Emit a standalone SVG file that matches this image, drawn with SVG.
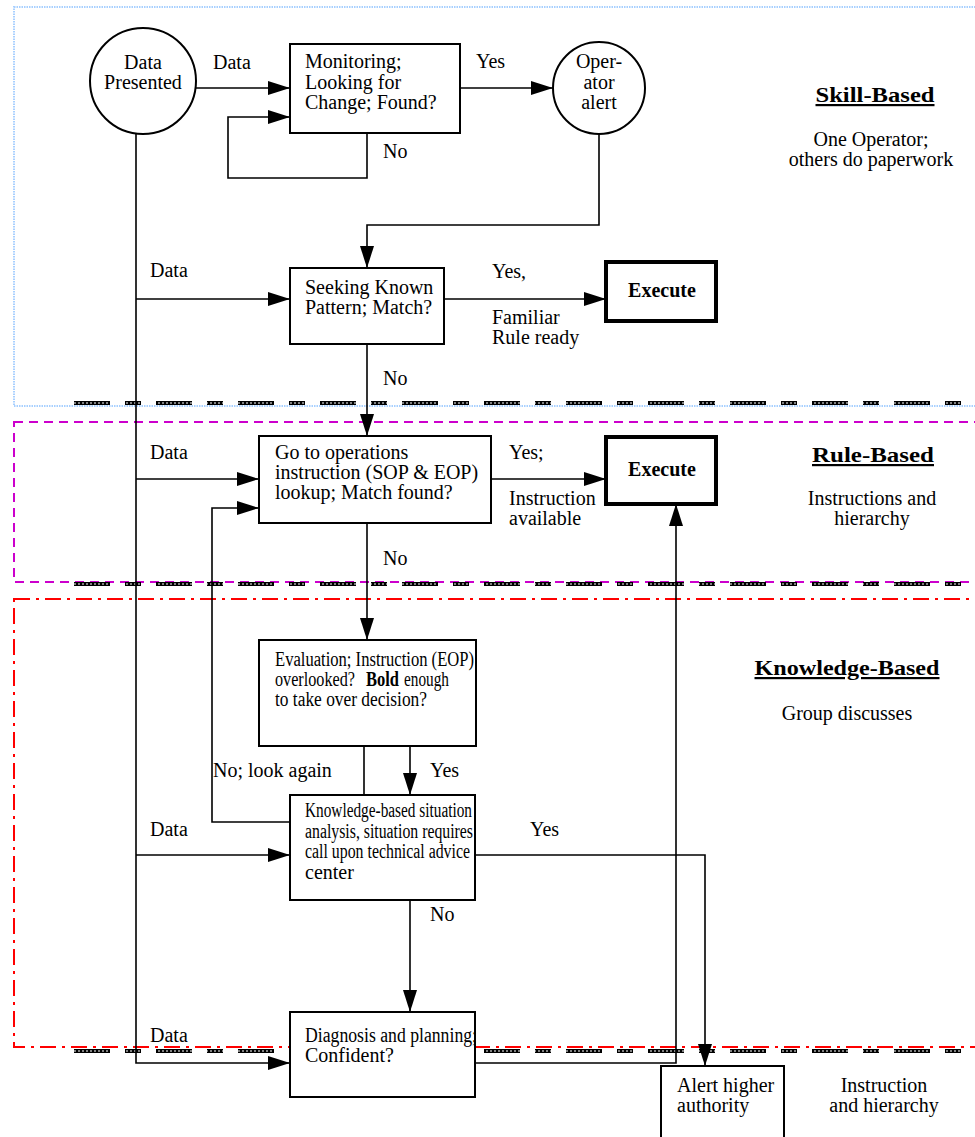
<svg xmlns="http://www.w3.org/2000/svg" width="975" height="1137" viewBox="0 0 975 1137">
<style>
text{font-family:"Liberation Serif","Times New Roman",serif;font-size:20px;fill:#000}
.b{font-weight:bold}
.t{font-weight:bold;font-size:22px;text-decoration:underline;text-anchor:middle}
.m{text-anchor:middle}
.box{fill:#fff;stroke:#000;stroke-width:2}
.ex{fill:#fff;stroke:#000;stroke-width:4}
.ln{fill:none;stroke:#000;stroke-width:1.6}
.arr{marker-end:url(#ah)}
.chain{stroke:#000;stroke-width:4;stroke-dasharray:36 15 16 15}
.chainw{stroke:#fff;stroke-width:1.2;stroke-dasharray:2 2}
</style>
<defs>
<marker id="ah" viewBox="0 0 22 14" refX="22" refY="7" markerWidth="22" markerHeight="14" markerUnits="userSpaceOnUse" orient="auto"><path d="M0,0 L22,7 L0,14 z" fill="#000"/></marker>
</defs>
<g id="regions">
<rect x="14" y="7" width="975" height="399" fill="none" stroke="#a8d0ff" stroke-width="2" stroke-dasharray="1.5 1"/>
<rect x="14" y="422" width="975" height="160" fill="none" stroke="#cc00cc" stroke-width="2" stroke-dasharray="9 6"/>
<rect x="14" y="599" width="975" height="448" fill="none" stroke="#ff0000" stroke-width="2" stroke-dasharray="16 6 3 6"/>
<line class="chain" x1="74" y1="403" x2="975" y2="403"/><line class="chainw" x1="74" y1="403" x2="975" y2="403"/>
<line class="chain" x1="74" y1="584" x2="975" y2="584"/><line class="chainw" x1="74" y1="584" x2="975" y2="584"/>
<line class="chain" x1="74" y1="1051" x2="975" y2="1051"/><line class="chainw" x1="74" y1="1051" x2="975" y2="1051"/>
</g>
<g id="connectors">
<path class="ln arr" d="M196,88 H290"/>
<path class="ln arr" d="M367,133 V178 H228 V117 H290"/>
<path class="ln arr" d="M460,88 H553"/>
<path class="ln arr" d="M599,134 V225 H367 V268"/>
<path class="ln arr" d="M136,134 V1063 H290"/>
<path class="ln arr" d="M136,299 H290"/>
<path class="ln arr" d="M444,299 H606"/>
<path class="ln arr" d="M367,344 V436"/>
<path class="ln arr" d="M136,479 H259"/>
<path class="ln arr" d="M491,479 H606"/>
<path class="ln arr" d="M364,746 V822 H212 V508 H259"/>
<path class="ln arr" d="M367,523 V640"/>
<path class="ln arr" d="M410,746 V795"/>
<path class="ln arr" d="M136,855 H290"/>
<path class="ln arr" d="M475,855 H705 V1066"/>
<path class="ln arr" d="M410,900 V1012"/>
<path class="ln arr" d="M475,1063 H676 V504"/>
</g>
<g id="labels">
<text x="213" y="69">Data</text>
<text x="476" y="68">Yes</text>
<text x="383" y="158">No</text>
<text x="150" y="277">Data</text>
<text x="492" y="278">Yes,</text>
<text x="492" y="324">Familiar</text>
<text x="492" y="344">Rule ready</text>
<text x="383" y="385">No</text>
<text x="150" y="459">Data</text>
<text x="509" y="459">Yes;</text>
<text x="509" y="505">Instruction</text>
<text x="509" y="525">available</text>
<text x="383" y="565">No</text>
<text x="213" y="777">No; look again</text>
<text x="430" y="777">Yes</text>
<text x="150" y="836">Data</text>
<text x="530" y="836">Yes</text>
<text x="430" y="921">No</text>
<text x="150" y="1042">Data</text>
</g>
<g id="n-data"><circle cx="143" cy="81" r="53" class="box"/><text class="m" x="143" y="69">Data</text><text class="m" x="143" y="89">Presented</text></g>
<g id="n-monitor"><rect x="290" y="44" width="170" height="89" class="box"/><text x="305" y="68">Monitoring;</text><text x="305" y="89">Looking for</text><text x="305" y="109">Change; Found?</text></g>
<g id="n-operator"><circle cx="599" cy="88" r="46" class="box"/><text class="m" x="599" y="68">Oper-</text><text class="m" x="599" y="89">ator</text><text class="m" x="599" y="109">alert</text></g>
<g id="n-seeking"><rect x="290" y="268" width="154" height="76" class="box"/><text x="305" y="294">Seeking Known</text><text x="305" y="314">Pattern; Match?</text></g>
<g id="n-exec1"><rect x="606" y="262" width="110" height="59" class="ex"/><text class="m b" x="662" y="297">Execute</text></g>
<g id="n-goto"><rect x="259" y="436" width="232" height="87" class="box"/><text x="275" y="459">Go to operations</text><text x="275" y="479">instruction (SOP &amp; EOP)</text><text x="275" y="499">lookup; Match found?</text></g>
<g id="n-exec2"><rect x="606" y="437" width="110" height="67" class="ex"/><text class="m b" x="662" y="476">Execute</text></g>
<g id="n-eval"><rect x="259" y="640" width="217" height="106" class="box"/>
<text x="275" y="666" textLength="199" lengthAdjust="spacingAndGlyphs">Evaluation; Instruction (EOP)</text>
<text x="275" y="686" textLength="80" lengthAdjust="spacingAndGlyphs">overlooked?</text>
<text class="b" x="366" y="686" textLength="33" lengthAdjust="spacingAndGlyphs">Bold</text>
<text x="404" y="686" textLength="45" lengthAdjust="spacingAndGlyphs">enough</text>
<text x="275" y="706" textLength="152" lengthAdjust="spacingAndGlyphs">to take over decision?</text></g>
<g id="n-knowledge"><rect x="290" y="795" width="185" height="105" class="box"/>
<text x="305" y="817" textLength="167" lengthAdjust="spacingAndGlyphs">Knowledge-based situation</text>
<text x="305" y="838" textLength="168" lengthAdjust="spacingAndGlyphs">analysis, situation requires</text>
<text x="305" y="858" textLength="165" lengthAdjust="spacingAndGlyphs">call upon technical advice</text>
<text x="305" y="879">center</text></g>
<g id="n-diagnosis"><rect x="290" y="1012" width="185" height="85" class="box"/><text x="305" y="1042" textLength="172" lengthAdjust="spacingAndGlyphs">Diagnosis and planning;</text><text x="305" y="1062">Confident?</text></g>
<g id="n-alert"><rect x="661" y="1066" width="123" height="85" class="box"/><text x="677" y="1092">Alert higher</text><text x="677" y="1112">authority</text></g>
<g id="sections">
<text class="t" x="875" y="102" textLength="119" lengthAdjust="spacingAndGlyphs">Skill-Based</text>
<text class="m" x="871" y="146">One Operator;</text>
<text class="m" x="871" y="166">others do paperwork</text>
<text class="t" x="873" y="462" textLength="122" lengthAdjust="spacingAndGlyphs">Rule-Based</text>
<text class="m" x="872" y="505">Instructions and</text>
<text class="m" x="872" y="525">hierarchy</text>
<text class="t" x="847" y="675" textLength="185" lengthAdjust="spacingAndGlyphs">Knowledge-Based</text>
<text class="m" x="847" y="720">Group discusses</text>
<text class="m" x="884" y="1092">Instruction</text>
<text class="m" x="884" y="1112">and hierarchy</text>
</g>
</svg>
